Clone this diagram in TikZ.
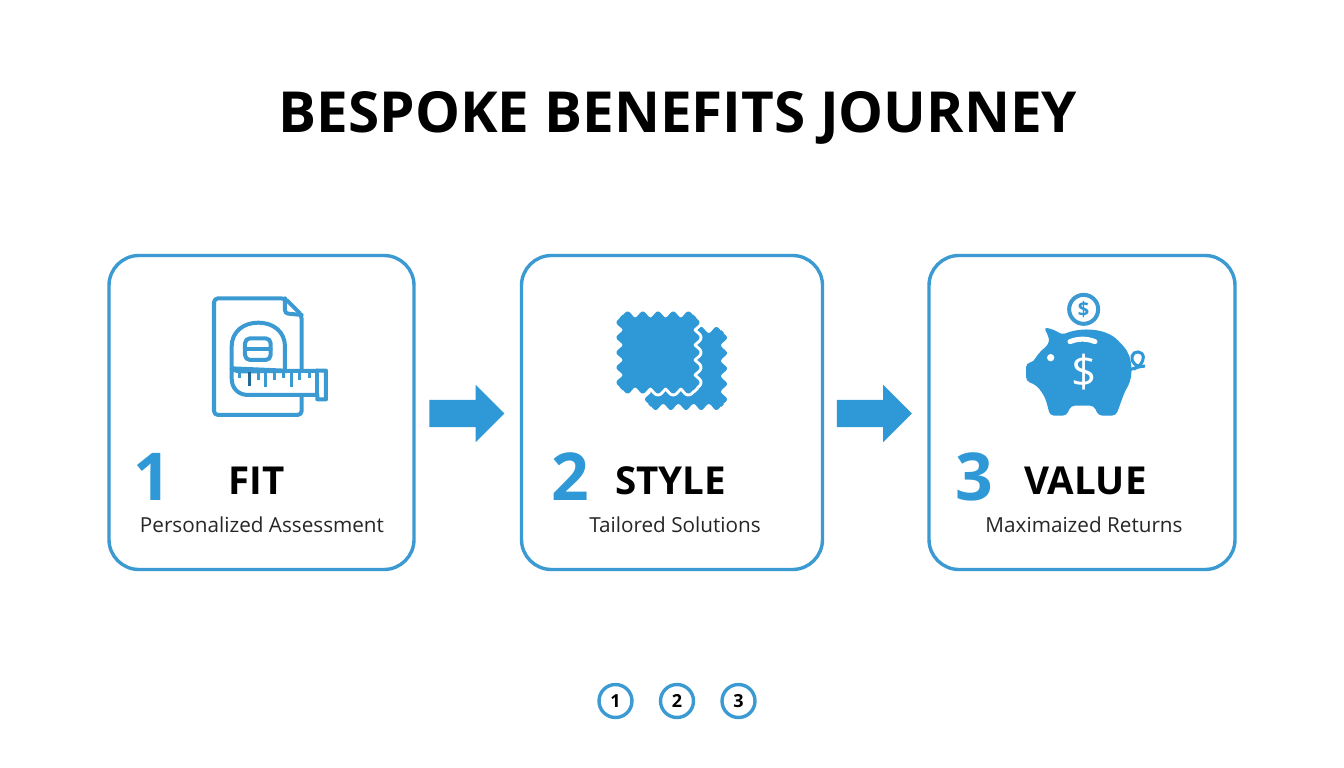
\documentclass[tikz,border=0pt]{standalone}
\usepackage{fontspec}
\setmainfont{Open Sans}
\usetikzlibrary{shapes.arrows}
\definecolor{jblue}{HTML}{2F98D6}
\definecolor{jline}{HTML}{3C9AD2}
\newcommand\swatchpath[4]{
  plot[domain=#1:#3,samples=60] (\x,{#2+3*cos(1800/(#3-#1)*(\x-#1))})
  -- plot[domain=#2:#4,samples=60] ({#3-3*cos(1800/(#4-#2)*(\x-#2))},\x)
  -- plot[domain=#3:#1,samples=60] (\x,{#4-3*cos(1800/(#3-#1)*(\x-#1))})
  -- plot[domain=#4:#2,samples=60] ({#1+3*cos(1800/(#4-#2)*(\x-#2))},\x) -- cycle}
\tikzset{
  card/.style={draw=jline,line width=3.4pt,rounded corners=30pt,fill=white,minimum height=314pt},
  bigno/.style={text=jblue,font=\fontsize{66}{66}\selectfont\bfseries,anchor=base,inner sep=0},
  head/.style={font=\fontsize{38.5}{39}\selectfont\bfseries,anchor=base,inner sep=0},
  sub/.style={font=\fontsize{20.7}{21}\selectfont,text=black!85,anchor=base,inner sep=0},
  blockarrow/.style={single arrow,fill=jblue,inner sep=0,text height=27pt,text depth=0pt,text width=1pt,
    minimum height=75pt,minimum width=57pt,single arrow head extend=15pt,single arrow head indent=0pt},
  dot/.style={circle,draw=jline,line width=3.4pt,minimum size=33pt,inner sep=0,
    font=\fontsize{18}{18}\selectfont\bfseries},
  icon/.style={draw=jline,line width=4pt,line join=round,line cap=round}
}
\begin{document}
\begin{tikzpicture}[x=1pt,y=-1pt]
  \useasboundingbox[fill=white] (0,0) rectangle (1344,768);
  \node[font=\fontsize{56.6}{57}\selectfont\bfseries,anchor=base,inner sep=0] (title) at (678,132) {BESPOKE BENEFITS JOURNEY};
  % cards
  \node[card,minimum width=305pt] (fitcard) at (261.5,412.5) {};
  \node[card,minimum width=301pt] (stylecard) at (672,412.5) {};
  \node[card,minimum width=306pt] (valuecard) at (1082,412.5) {};
  % arrows
  \node[blockarrow] (arrowa) at (460,413.5) {};
  \node[blockarrow] (arrowb) at (867.5,413.5) {};
  % card texts
  \node[bigno] (noa) at (152,500) {1};
  \node[head] (heada) at (256.5,494) {FIT};
  \node[sub] (suba) at (262,532) {Personalized Assessment};
  \node[bigno] (nob) at (570,500) {2};
  \node[head] (headb) at (670.5,494) {STYLE};
  \node[sub] (subb) at (675,532) {Tailored Solutions};
  \node[bigno] (noc) at (974,500) {3};
  \node[head] (headc) at (1085.5,494) {VALUE};
  \node[sub] (subc) at (1084,532) {Maximaized Returns};
  % pager
  \node[dot] (pagea) at (615.5,701) {1};
  \node[dot] (pageb) at (677,701) {2};
  \node[dot] (pagec) at (738.5,701) {3};
  % tape icon
  \begin{scope}[shift={(190,280)},x=0.3333pt,y=-0.3333pt]
    \draw[icon,rounded corners=4pt] (285,55) -- (72,55) -- (72,405) -- (335,405) -- (335,105) -- cycle;
    \draw[icon,rounded corners=3pt] (285,55) -- (285,100) -- (335,105);
    \draw[icon,fill=white] (125,265) -- (125,200) .. controls (125,155) and (160,128) .. (205,128)
      .. controls (250,128) and (285,155) .. (285,200) -- (285,272) -- (125,265);
    \draw[icon,fill=white,rounded corners=5pt] (165,175) rectangle (242,240);
    \draw[icon] (165,208) -- (242,208);
    \draw[icon,fill=white] (125,265) .. controls (140,278) and (160,274) .. (180,274) -- (408,272)
      -- (408,358) -- (382,358) -- (382,345) -- (175,345) .. controls (145,345) and (125,325) .. (125,295) -- cycle;
    \draw[icon] (382,272) -- (382,345);
    \foreach \tx/\ty in {150/295,205/300,255/300,280/295,330/300,358/295}
      \draw[jline,line width=3pt] (\tx,276) -- (\tx,\ty);
    \foreach \tx in {228,305}
      \draw[jline,line width=3pt] (\tx,276) -- (\tx,320);
    \draw[jblue!70!black,line width=3pt] (178,276) -- (178,318);
  \end{scope}
  % swatch icon
  \fill[jblue] \swatchpath{648}{330}{724}{407};
  \fill[jblue,draw=white,line width=7pt,line join=round] \swatchpath{620}{315}{696}{390};
  \fill[jblue,draw=jblue,line width=1pt,line join=round] \swatchpath{620}{315}{696}{390};
  % piggy icon
  \begin{scope}[shift={(1010,285)},x=0.3333pt,y=-0.3333pt]
    \fill[jblue,rounded corners=4pt] (48,235) -- (72,230) .. controls (80,212) and (95,195) .. (115,180)
      .. controls (118,162) and (112,145) .. (100,128) .. controls (120,130) and (140,138) .. (155,150)
      .. controls (215,125) and (290,130) .. (332,175) .. controls (368,212) and (372,275) .. (345,318)
      -- (318,392) -- (265,392) -- (252,362) -- (182,362) -- (170,392) -- (120,392) -- (108,345)
      .. controls (98,325) and (88,312) .. (78,300) -- (48,288) -- cycle;
    \draw[white,line width=5pt,line cap=round] (180,170) .. controls (205,160) and (230,160) .. (255,170);
    \fill[white] (122,218) circle (11);
    \node[text=white,font=\fontsize{44}{44}\selectfont,inner sep=0] (pigdollar) at (221,260) {\$};
    \node[circle,draw=jline,line width=4pt,minimum size=29pt,inner sep=0,text=jblue,
      font=\fontsize{20}{20}\selectfont\bfseries] (coin) at (221,73) {\$};
    \draw[jblue,line width=3pt,line cap=round] (350,258) .. controls (370,250) and (385,245) .. (405,243)
      .. controls (380,250) and (362,232) .. (366,214) .. controls (370,196) and (398,196) .. (400,216)
      .. controls (401,232) and (385,248) .. (372,252);
  \end{scope}
\end{tikzpicture}
\end{document}
